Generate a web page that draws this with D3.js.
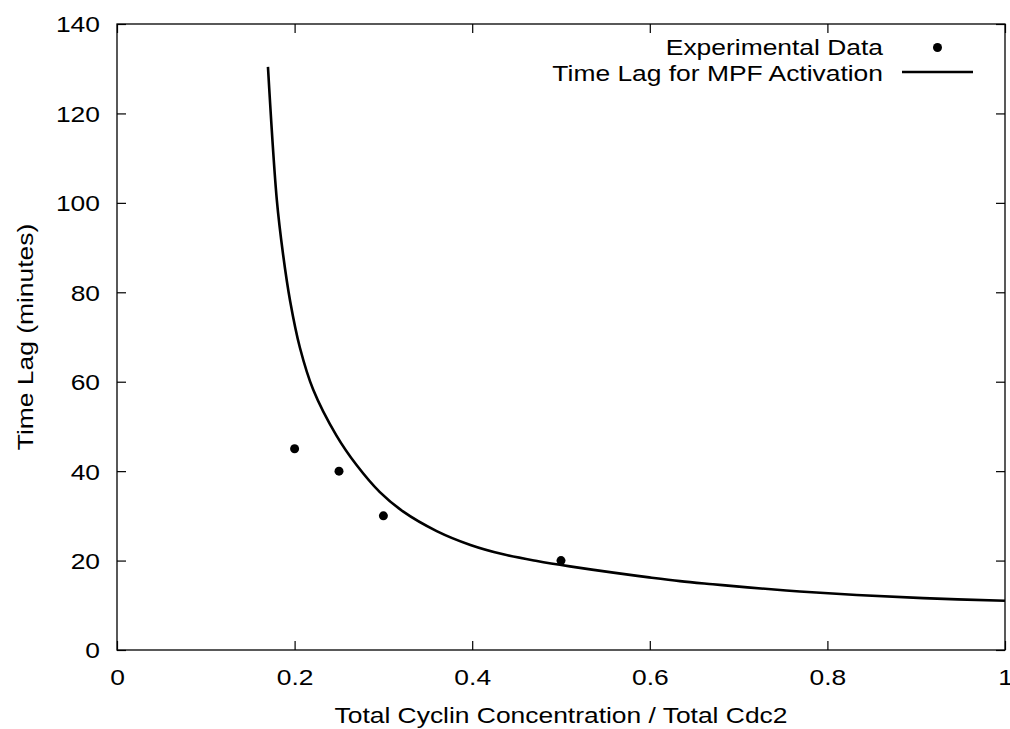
<!DOCTYPE html>
<html>
<head>
<meta charset="utf-8">
<script src="https://cdn.jsdelivr.net/npm/d3@7"></script>
<style>
  html, body { margin: 0; padding: 0; background: #fff; }
  svg { display: block; }
  text { font-family: "Liberation Sans", Arial, Helvetica, sans-serif; fill: #000; }
</style>
</head>
<body>
<svg id="chart" width="1010" height="729"></svg>
<script>
// ---- data ----
const xTicks = [0, 0.2, 0.4, 0.6, 0.8, 1];
const xTickLabels = ["0", "0.2", "0.4", "0.6", "0.8", "1"];
const yTicks = [0, 20, 40, 60, 80, 100, 120, 140];
const yTickLabels = ["0", "20", "40", "60", "80", "100", "120", "140"];

const expX = [0.2, 0.25, 0.3, 0.5];
const expY = [45, 40, 30, 20];

const curveX = [0.170, 0.180, 0.187, 0.195, 0.206, 0.221, 0.247, 0.270, 0.296, 0.322,
                0.360, 0.398, 0.435, 0.473, 0.510, 0.559, 0.597, 0.634, 0.671, 0.710,
                0.769, 0.833, 0.908, 1.000];
const curveY = [130.4, 100.6, 88.5, 78.0, 67.6, 58.2, 48.0, 41.3, 35.3, 31.0,
                26.6, 23.5, 21.4, 19.9, 18.7, 17.3, 16.3, 15.4, 14.7, 14.0,
                13.1, 12.3, 11.6, 11.0];

const xTitle = "Total Cyclin Concentration / Total Cdc2";
const yTitle = "Time Lag (minutes)";
const legendLabels = ["Experimental Data", "Time Lag for MPF Activation"];

// ---- layout ----
const svg = d3.select("#chart");
const L = 117, R = 1005, T = 24, B = 650;
const FS = 22, STRETCH = 1.2;

const x = d3.scaleLinear().domain([0, 1]).range([L, R]);
const y = d3.scaleLinear().domain([0, 140]).range([B, T]);

function stretch(sel) {
  sel.each(function() {
    const w = this.getComputedTextLength();
    d3.select(this).attr("textLength", w * STRETCH).attr("lengthAdjust", "spacingAndGlyphs");
  });
}

// frame
svg.append("rect").attr("x", L).attr("y", T).attr("width", R - L).attr("height", B - T)
  .attr("fill", "none").attr("stroke", "#000").attr("stroke-width", 1.3);

const TL = 9;
const gx = svg.append("g").attr("transform", `translate(0,${B})`)
  .call(d3.axisBottom(x).tickValues(xTicks).tickSize(-TL).tickPadding(0).tickFormat((d, i) => xTickLabels[i]));
const gxt = svg.append("g").attr("transform", `translate(0,${T})`)
  .call(d3.axisTop(x).tickValues(xTicks).tickSize(-TL).tickFormat(""));
const gy = svg.append("g").attr("transform", `translate(${L},0)`)
  .call(d3.axisLeft(y).tickValues(yTicks).tickSize(-TL).tickPadding(0).tickFormat((d, i) => yTickLabels[i]));
const gyr = svg.append("g").attr("transform", `translate(${R},0)`)
  .call(d3.axisRight(y).tickValues(yTicks).tickSize(-TL).tickFormat(""));

[gx, gxt, gy, gyr].forEach(g => {
  g.select(".domain").remove();
  g.attr("font-family", null).attr("font-size", null);
  g.selectAll(".tick line").attr("stroke", "#000").attr("stroke-width", 1.2);
});

gx.selectAll(".tick text")
  .attr("font-size", FS)
  .attr("y", 35).attr("dy", null).attr("text-anchor", "middle")
  .call(stretch);
gy.selectAll(".tick text")
  .attr("font-size", FS)
  .attr("x", -17).attr("dy", "0.36em").attr("text-anchor", "end")
  .call(stretch);

// titles
svg.append("text").attr("x", (L + R) / 2).attr("y", 723).attr("text-anchor", "middle")
  .attr("font-size", FS).text(xTitle).call(stretch);
svg.append("text").attr("transform", `translate(33,${(T + B) / 2}) rotate(-90)`)
  .attr("text-anchor", "middle").attr("font-size", FS).text(yTitle).call(stretch);

// curve
const line = d3.line().x((d, i) => x(curveX[i])).y((d, i) => y(curveY[i])).curve(d3.curveCatmullRom.alpha(0.5));
svg.append("path").datum(curveY).attr("d", line)
  .attr("fill", "none").attr("stroke", "#000").attr("stroke-width", 2.6).attr("stroke-linejoin", "round");

// points
svg.append("g").selectAll("circle").data(expY).join("circle")
  .attr("cx", (d, i) => x(expX[i])).attr("cy", d => y(d)).attr("r", 4.5).attr("fill", "#000");

// legend
const legend = svg.append("g");
legend.append("text").attr("x", 883).attr("y", 55).attr("text-anchor", "end")
  .attr("font-size", FS).text(legendLabels[0]).call(stretch);
legend.append("circle").attr("cx", 937.5).attr("cy", 47.5).attr("r", 4.5).attr("fill", "#000");
legend.append("text").attr("x", 883).attr("y", 81).attr("text-anchor", "end")
  .attr("font-size", FS).text(legendLabels[1]).call(stretch);
legend.append("line").attr("x1", 902).attr("x2", 973).attr("y1", 72).attr("y2", 72)
  .attr("stroke", "#000").attr("stroke-width", 2.6);
</script>
</body>
</html>
